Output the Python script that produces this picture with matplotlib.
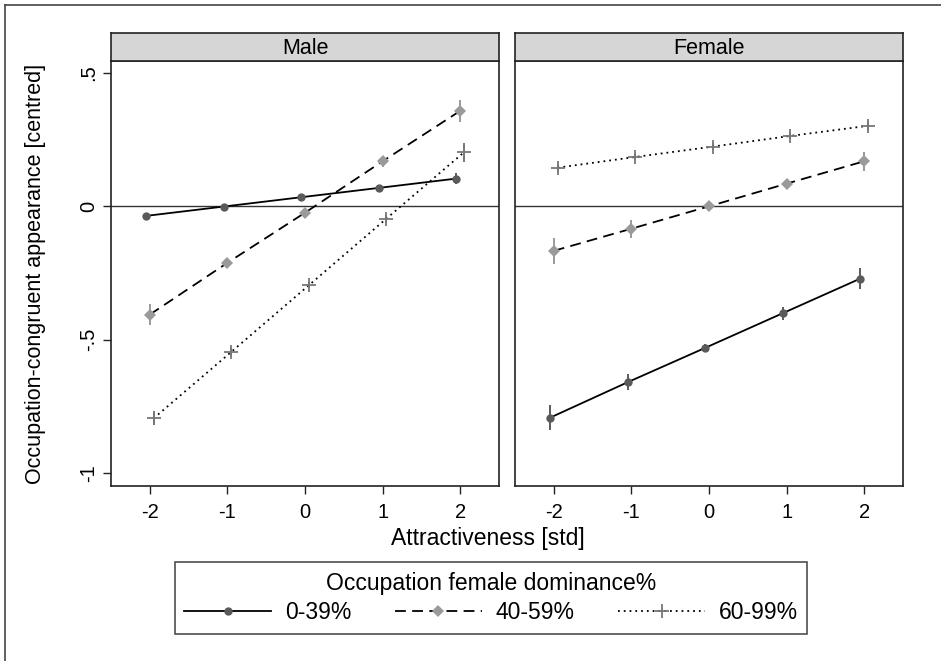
import matplotlib

matplotlib.use("Agg")
import matplotlib.pyplot as plt
from matplotlib.lines import Line2D

# data
attract = [-2, -1, 0, 1, 2]
groups = ["0-39%", "40-59%", "60-99%"]
panels = ["Male", "Female"]

male_low = [-0.036, -0.001, 0.034, 0.069, 0.104]
male_mid = [-0.406, -0.212, -0.024, 0.169, 0.358]
male_high = [-0.795, -0.546, -0.296, -0.046, 0.203]
female_low = [-0.793, -0.660, -0.531, -0.401, -0.271]
female_mid = [-0.167, -0.084, 0.0, 0.085, 0.169]
female_high = [0.145, 0.185, 0.224, 0.264, 0.302]

male_low_err = [0.012, 0.010, 0.010, 0.012, 0.020]
male_mid_err = [0.040, 0.020, 0.018, 0.020, 0.040]
male_high_err = [0.027, 0.015, 0.012, 0.015, 0.035]
female_low_err = [0.047, 0.030, 0.015, 0.024, 0.040]
female_mid_err = [0.050, 0.033, 0.015, 0.015, 0.035]
female_high_err = [0.015, 0.013, 0.012, 0.013, 0.015]

values = {
    "Male": [male_low, male_mid, male_high],
    "Female": [female_low, female_mid, female_high],
}
errors = {
    "Male": [male_low_err, male_mid_err, male_high_err],
    "Female": [female_low_err, female_mid_err, female_high_err],
}

offsets = [-0.05, 0.0, 0.05]
markers = ["o", "D", "+"]
marker_sizes = [6, 6.5, 10]
marker_colors = ["#5a5a5a", "#9a9a9a", "#777777"]
line_styles = ["-", (0, (6, 3.5)), (0, (1, 2.2))]

plt.rcParams["font.family"] = ["Liberation Sans", "DejaVu Sans"]

fig = plt.figure(figsize=(9.41, 6.61), dpi=100)

W, H = 941, 661
panel_boxes = [(111, 499), (515, 903)]
top_px, bottom_px, strip_top = 61, 486, 33

for p, (name, (x0, x1)) in enumerate(zip(panels, panel_boxes)):
    ax = fig.add_axes(
        [x0 / W, 1 - bottom_px / H, (x1 - x0) / W, (bottom_px - top_px) / H]
    )
    ax.axhline(0, color="#333333", linewidth=1.0, zorder=1)
    for g in range(3):
        xs = [x + offsets[g] for x in attract]
        ys = values[name][g]
        es = errors[name][g]
        ax.vlines(xs, [y - e for y, e in zip(ys, es)], [y + e for y, e in zip(ys, es)],
                  color=marker_colors[g], linewidth=1.4, zorder=2)
        ax.plot(xs, ys, color="black", linestyle=line_styles[g], linewidth=1.3, zorder=3)
        ax.plot(xs, ys, linestyle="none", marker=markers[g], markersize=marker_sizes[g],
                color=marker_colors[g], markeredgewidth=1.3 if g == 2 else 0.0, zorder=4)
    ax.set_xlim(-2.5, 2.5)
    ax.set_ylim(-1.049, 0.545)
    ax.set_xticks(attract)
    ax.set_xticklabels(["-2", "-1", "0", "1", "2"], fontsize=14.5)
    ax.tick_params(axis="both", direction="out", length=6, width=1, color="#222222")
    ax.tick_params(axis="x", pad=6)
    if p == 0:
        ax.set_yticks([-1, -0.5, 0, 0.5])
        ax.set_yticklabels(["-1", "-.5", "0", ".5"], fontsize=14.5, rotation=90, va="center")
        ax.tick_params(axis="y", pad=3)
        ax.set_ylabel("Occupation-congruent appearance [centred]", fontsize=15.5, labelpad=24)
    else:
        ax.set_yticks([])
    for s in ax.spines.values():
        s.set_linewidth(1.2)
        s.set_color("#222222")

    strip = fig.add_axes([x0 / W, 1 - top_px / H, (x1 - x0) / W, (top_px - strip_top) / H])
    strip.set_facecolor("#d6d6d6")
    strip.set_xticks([])
    strip.set_yticks([])
    for s in strip.spines.values():
        s.set_linewidth(1.2)
        s.set_color("#222222")
    strip.text(0.5, 0.45, name, ha="center", va="center", fontsize=15.5,
               transform=strip.transAxes)

fig.text(488 / W, 1 - 538 / H, "Attractiveness [std]", ha="center", va="center", fontsize=16.5)

handles = [
    Line2D([0], [0], color="black", linestyle=line_styles[g], linewidth=1.3,
           marker=markers[g], markersize=marker_sizes[g], markerfacecolor=marker_colors[g],
           markeredgecolor=marker_colors[g], markeredgewidth=1.3 if g == 2 else 0.0)
    for g in range(3)
]
leg = fig.legend(handles, groups, loc="center", bbox_to_anchor=(491 / W, 1 - 598 / H),
                 ncol=3, fontsize=16.5, title="Occupation female dominance%",
                 title_fontsize=16.5, frameon=True, fancybox=False, handlelength=3.8,
                 columnspacing=1.9, handletextpad=0.6, borderpad=0.4, labelspacing=0.3)
leg.get_frame().set_edgecolor("#222222")
leg.get_frame().set_linewidth(1.2)

# outer frame (top and left edges only visible)
fig.add_artist(Line2D([5 / W, 1.0], [1 - 5 / H, 1 - 5 / H], color="#444444", linewidth=1.2))
fig.add_artist(Line2D([5 / W, 5 / W], [0.0, 1 - 5 / H], color="#444444", linewidth=1.2))

fig.savefig("out.png", dpi=100)
